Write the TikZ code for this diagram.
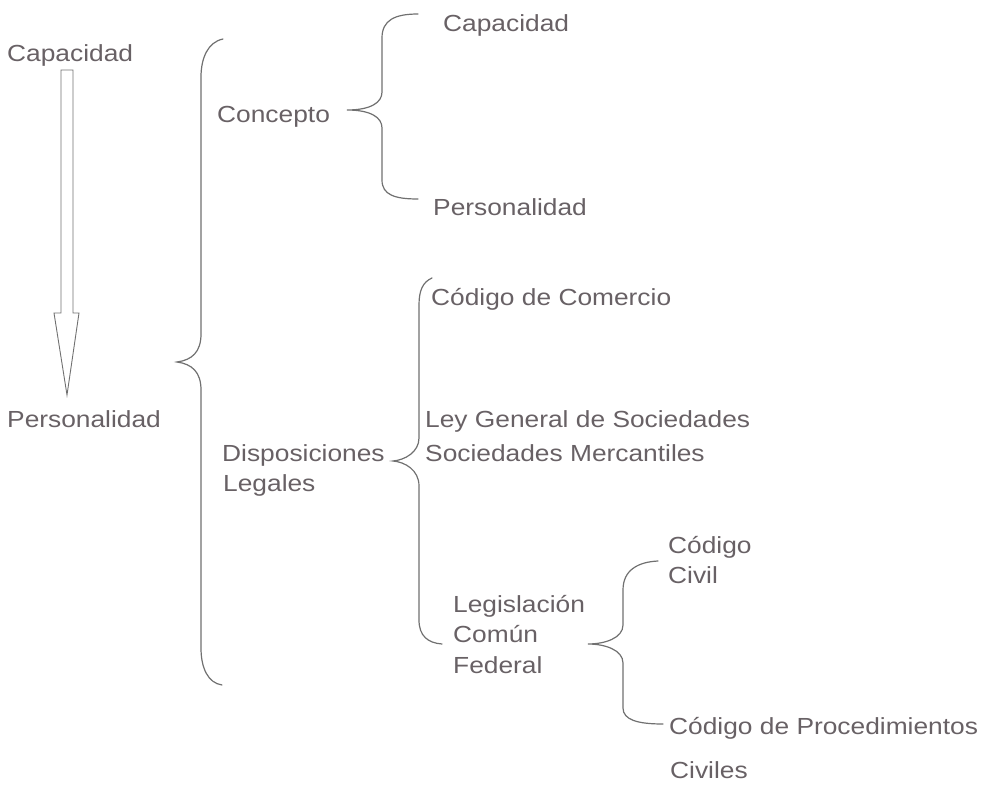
\documentclass[tikz,border=0pt]{standalone}
\usepackage{fontspec}
\setmainfont{Liberation Sans}[FakeStretch=1.13]
\definecolor{inkgrey}{RGB}{104,97,101}
\definecolor{linegrey}{RGB}{112,112,112}
\begin{document}
\begin{tikzpicture}[x=1pt,y=-1pt,
    txt/.style={anchor=base west,inner sep=0pt,text=inkgrey,font=\fontsize{23.3}{28}\selectfont},
    curly/.style={draw=linegrey,line width=1.2pt,line cap=round},
    blockarrow/.style={draw=linegrey,line width=0.9pt,line join=miter}]

          \useasboundingbox (0,0) rectangle (982,784);

          % left column
          \node[txt] (cap) at (7,62) {Capacidad};
          \node[txt] (pers) at (7,427) {Personalidad};
          \coordinate (atop) at (67,70);
          \coordinate (atip) at (67,395);
          \draw[blockarrow] ([xshift=-6pt]atop) -- ++(0,243) -- ++(-7,0) -- (atip)
              -- ++(12,-82) -- ++(-6,0) -- ++(0,-243) -- cycle;

          \draw[curly] (223,39) .. controls (208,42) and (201,58) .. (201,77) -- (201,334)
              .. controls (201,352) and (192,360) .. (177,362)
              .. controls (192,364) and (201,372) .. (201,390) -- (201,648)
              .. controls (201,668) and (208,683) .. (222,685);

          % Concepto
          \node[txt] (conc) at (217,122) {Concepto};
          \node[txt] (capb) at (443,32) {Capacidad};
          \node[txt] (persb) at (433,215) {Personalidad};

          \draw[curly] (418,14) .. controls (395,14) and (382,20) .. (382,38) -- (382,92)
              .. controls (382,103) and (370,110) .. (347,110)
              .. controls (370,110) and (382,117) .. (382,128) -- (382,180)
              .. controls (382,195) and (395,199) .. (418,199);

          % Disposiciones Legales
          \node[txt] (disp) at (222,461) {Disposiciones};
          \node[txt] (leg) at (223,491) {Legales};
          \node[txt] (codcom) at (431,305) {Código de Comercio};
          \node[txt] (ley) at (425,427) {Ley General de Sociedades};
          \node[txt] (socm) at (425,461) {Sociedades Mercantiles};

          \draw[curly] (432,278) .. controls (423,282) and (419,290) .. (419,305) -- (419,438)
              .. controls (419,452) and (405,460) .. (393,461)
              .. controls (405,462) and (419,470) .. (419,486) -- (419,620)
              .. controls (419,636) and (428,643) .. (442,644);

          % Legislacion Comun Federal
          \node[txt] (legis) at (453,612) {Legislación};
          \node[txt] (comun) at (453,642) {Común};
          \node[txt] (fed) at (453,673) {Federal};
          \node[txt] (codigo) at (668,553) {Código};
          \node[txt] (civil) at (668,583) {Civil};
          \node[txt] (codproc) at (669,734) {Código de Procedimientos};
          \node[txt] (civiles) at (670,778) {Civiles};

          \draw[curly] (658,561) .. controls (638,562) and (623,570) .. (623,590) -- (623,625)
              .. controls (623,638) and (605,644) .. (588,644)
              .. controls (605,644) and (623,650) .. (623,663) -- (623,708)
              .. controls (623,720) and (638,724) .. (663,724);
      \end{tikzpicture}
\end{document}
